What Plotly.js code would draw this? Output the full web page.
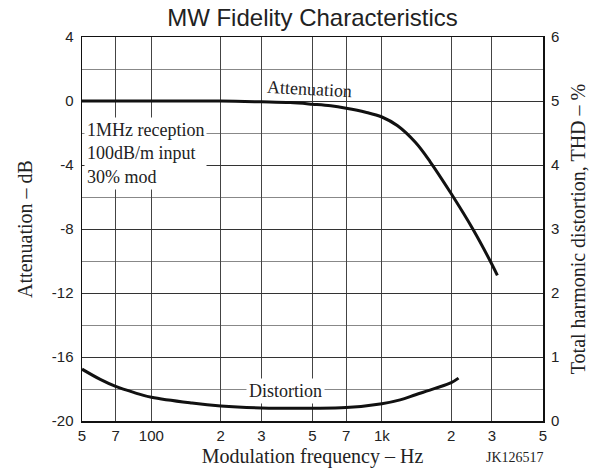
<!DOCTYPE html>
<html>
<head>
<meta charset="utf-8">
<script src="https://cdn.plot.ly/plotly-3.0.1.min.js"></script>
<style>html,body{margin:0;padding:0;background:#fff;}#chart{width:590px;height:468px;}</style>
</head>
<body>
<div id="chart"></div>
<script>
// Attenuation curve (dB) vs modulation frequency (Hz)
const freqAtt = [50, 100, 200, 300, 400, 500, 600, 700, 850, 1000, 1170, 1400, 1620, 2000, 2480, 3000, 3170];
const attDb   = [0, 0, 0, -0.05, -0.1, -0.2, -0.3, -0.45, -0.7, -1.0, -1.55, -2.6, -3.8, -5.8, -8.0, -10.2, -10.9];

// Distortion curve (THD %) vs modulation frequency (Hz)
const freqThd = [50, 60, 70, 85, 100, 150, 200, 300, 500, 700, 1000, 1200, 1400, 1700, 2000, 2150];
const thdPct  = [0.81, 0.65, 0.54, 0.44, 0.37, 0.28, 0.235, 0.205, 0.2, 0.21, 0.27, 0.33, 0.41, 0.51, 0.6, 0.67];

// Axis ticks
const xTickVals = [50, 70, 100, 200, 300, 500, 700, 1000, 2000, 3000, 5000];
const xTickText = ['5', '7', '100', '2', '3', '5', '7', '1k', '2', '3', '5'];
const yLeftTickVals = [4, 0, -4, -8, -12, -16, -20];
const yLeftTickText = ['4', '0', '-4', '-8', '-12', '-16', '-20'];
const yRightTickVals = [0, 1, 2, 3, 4, 5, 6];
const yRightTickText = ['0', '1', '2', '3', '4', '5', '6'];
const yLeftRange = [-20, 4];
const yRightRange = [0, 6];

const serif = 'Liberation Serif, Times New Roman, serif';
const sans = 'Liberation Sans, Arial, sans-serif';

const traces = [
  {
    x: freqAtt, y: attDb, type: 'scatter', mode: 'lines', name: 'Attenuation',
    line: {color: '#111', width: 3, shape: 'spline', smoothing: 1},
    yaxis: 'y', hoverinfo: 'skip'
  },
  {
    x: freqThd, y: thdPct, type: 'scatter', mode: 'lines', name: 'Distortion',
    line: {color: '#111', width: 3, shape: 'spline', smoothing: 1},
    yaxis: 'y2', hoverinfo: 'skip'
  }
];

const layout = {
  width: 590, height: 468,
  margin: {l: 82, r: 47, t: 37, b: 47},
  paper_bgcolor: '#fff', plot_bgcolor: '#fff',
  showlegend: false,
  title: {
    text: 'MW Fidelity Characteristics',
    font: {family: sans, size: 24, color: '#222'},
    x: 0.5, xref: 'paper', y: 1 - 18 / 468, yref: 'container', yanchor: 'middle'
  },
  xaxis: {
    type: 'log', range: [Math.log10(50), Math.log10(5000)],
    tickmode: 'array', tickvals: xTickVals, ticktext: xTickText,
    tickfont: {family: sans, size: 15, color: '#222'},
    showgrid: true, gridcolor: '#444', gridwidth: 1,
    showline: true, linecolor: '#111', linewidth: 1.5, mirror: true,
    ticks: '', zeroline: false,
    title: {text: 'Modulation frequency – Hz', font: {family: serif, size: 20, color: '#222'}, standoff: 6}
  },
  yaxis: {
    range: yLeftRange, tickmode: 'array', tickvals: yLeftTickVals, ticktext: yLeftTickText,
    tickfont: {family: sans, size: 15, color: '#222'},
    showgrid: true, gridcolor: '#333', gridwidth: 1,
    minor: {tickmode: 'linear', tick0: 0, dtick: 2, showgrid: true, gridcolor: '#888', gridwidth: 1, ticks: ''},
    showline: true, linecolor: '#111', linewidth: 1.5, mirror: true,
    ticks: '', zeroline: false, ticklabelstandoff: 4,
    title: {text: 'Attenuation – dB', font: {family: serif, size: 20, color: '#222'}, standoff: 14}
  },
  yaxis2: {
    range: yRightRange, overlaying: 'y', side: 'right',
    tickmode: 'array', tickvals: yRightTickVals, ticktext: yRightTickText,
    tickfont: {family: sans, size: 15, color: '#222'},
    showgrid: false, zeroline: false, showline: false, ticks: '', ticklabelstandoff: 7,
    title: {text: 'Total harmonic distortion, THD – %', font: {family: serif, size: 20, color: '#222'}, standoff: 12}
  },
  annotations: [
    {
      text: 'Attenuation', x: Math.log10(483), y: 0.75, xref: 'x', yref: 'y',
      showarrow: false, textangle: 3,
      font: {family: serif, size: 18, color: '#222'}
    },
    {
      text: 'Distortion', x: Math.log10(380), y: 0.47, xref: 'x', yref: 'y2',
      showarrow: false, bgcolor: '#fff', borderpad: 2,
      font: {family: serif, size: 18, color: '#222'}
    },
    {
      text: '1MHz reception<br>100dB/m input<br>30% mod',
      x: 0.004, y: -3.25, xref: 'paper', yref: 'y', xanchor: 'left', yanchor: 'middle',
      align: 'left', showarrow: false, bgcolor: '#fff', borderpad: 2,
      font: {family: serif, size: 18, color: '#222'}
    },
    {
      text: 'JK126517', x: 0.94, y: -0.094, xref: 'paper', yref: 'paper',
      xanchor: 'center', yanchor: 'middle', showarrow: false,
      font: {family: serif, size: 14, color: '#222'}
    }
  ]
};

Plotly.newPlot('chart', traces, layout, {displayModeBar: false, staticPlot: true});
</script>
</body>
</html>
